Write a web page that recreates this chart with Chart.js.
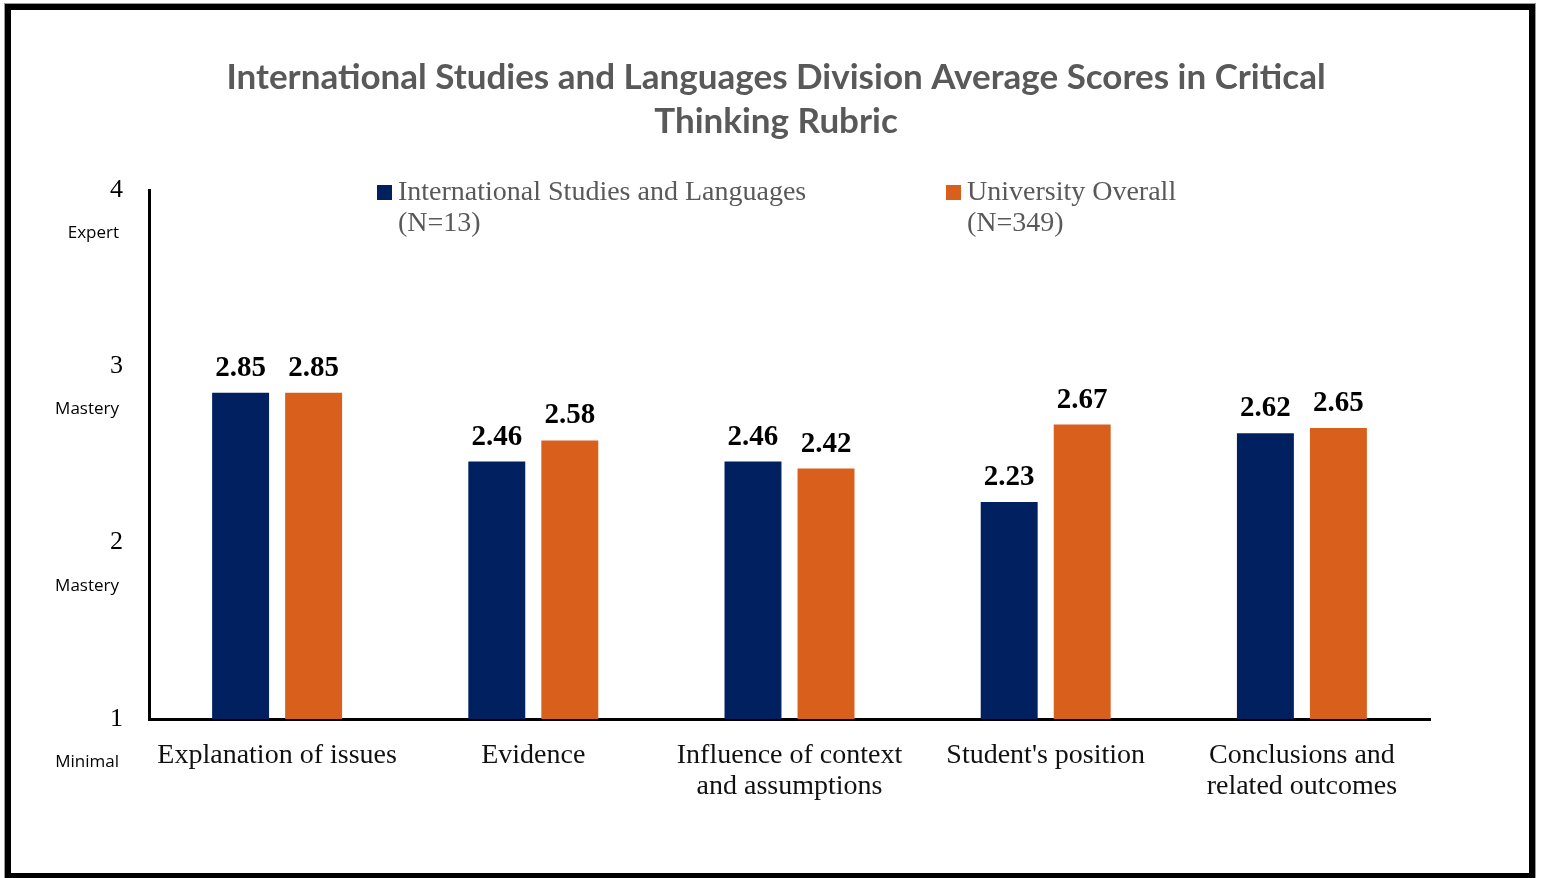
<!DOCTYPE html>
<html>
<head>
<meta charset="utf-8">
<script src="https://cdn.jsdelivr.net/npm/chart.js@4"></script>
<style>
  html, body { margin:0; padding:0; background:#fff; width:1543px; height:878px; overflow:hidden; }
  #frame { position:absolute; left:5px; top:4px; width:1518px; height:863px; border:6px solid #000; box-shadow:0 0 0 1px #999; }
  #c { position:absolute; left:0; top:0; }
</style>
</head>
<body>
<div id="frame"></div>
<canvas id="c" width="1543" height="878"></canvas>
<script>
const titleLines = ['International Studies and Languages Division Average Scores in Critical', 'Thinking Rubric'];
const categories = [
  'Explanation of issues',
  'Evidence',
  ['Influence of context', 'and assumptions'],
  "Student's position",
  ['Conclusions and', 'related outcomes']
];
const seriesNames = [['International Studies and Languages', '(N=13)'], ['University Overall', '(N=349)']];
const islScores = [2.85, 2.46, 2.46, 2.23, 2.62];
const universityScores = [2.85, 2.58, 2.42, 2.67, 2.65];
const seriesColors = ['#002060', '#D9601C'];
const yTickValues = [1, 2, 3, 4];
const yLevelNames = ['Minimal', 'Mastery', 'Mastery', 'Expert'];

const SERIF = '"Liberation Serif", "DejaVu Serif", serif';

const titlePlugin = {
  id: 'titlePlugin',
  afterDraw(chart) {
    const ctx = chart.ctx;
    ctx.save();
    ctx.font = 'bold 35px Lato, "Open Sans", sans-serif';
    ctx.fillStyle = '#595959';
    ctx.textAlign = 'center';
    ctx.textBaseline = 'middle';
    titleLines.forEach((line, i) => ctx.fillText(line, 776, 78 + i * 44));
    ctx.restore();
  }
};

const levelLabels = {
  id: 'levelLabels',
  afterDraw(chart) {
    const ctx = chart.ctx, s = chart.scales.y;
    ctx.save();
    ctx.font = '17px "Open Sans", sans-serif';
    ctx.fillStyle = '#000';
    ctx.textAlign = 'right';
    ctx.textBaseline = 'middle';
    yTickValues.forEach((v, i) => {
      ctx.fillText(yLevelNames[i], 119, s.getPixelForValue(v) + 43);
    });
    ctx.restore();
  }
};

const valueLabels = {
  id: 'valueLabels',
  afterDatasetsDraw(chart) {
    const ctx = chart.ctx;
    ctx.save();
    ctx.font = 'bold 29px ' + SERIF;
    ctx.fillStyle = '#000';
    ctx.textAlign = 'center';
    ctx.textBaseline = 'alphabetic';
    chart.data.datasets.forEach((ds, di) => {
      chart.getDatasetMeta(di).data.forEach((bar, i) => {
        ctx.fillText(ds.data[i].toFixed(2), bar.x, bar.y - 17);
      });
    });
    ctx.restore();
  }
};

const customLegend = {
  id: 'customLegend',
  afterDraw(chart) {
    const ctx = chart.ctx;
    const xs = [377, 946];
    ctx.save();
    ctx.font = '28px ' + SERIF;
    ctx.textBaseline = 'middle';
    ctx.textAlign = 'left';
    chart.data.datasets.forEach((ds, i) => {
      ctx.fillStyle = ds.backgroundColor;
      ctx.fillRect(xs[i], 185, 15, 15);
      ctx.fillStyle = '#595959';
      seriesNames[i].forEach((line, j) => {
        ctx.fillText(line, xs[i] + 21, 193 + j * 31);
      });
    });
    ctx.restore();
  }
};

new Chart(document.getElementById('c'), {
  type: 'bar',
  data: {
    labels: categories,
    datasets: [
      { label: seriesNames[0].join(' '), data: islScores, backgroundColor: seriesColors[0] },
      { label: seriesNames[1].join(' '), data: universityScores, backgroundColor: seriesColors[1] }
    ]
  },
  options: {
    responsive: false,
    animation: false,
    categoryPercentage: 0.57,
    barPercentage: 0.78,
    layout: { padding: { left: 0, right: 113, top: 190, bottom: 59 } },
    plugins: {
      legend: { display: false },
      tooltip: { enabled: false },
      title: { display: false }
    },
    scales: {
      x: {
        grid: { display: false, drawTicks: false },
        border: { display: true, color: '#000', width: 3 },
        ticks: { color: '#111', font: { family: SERIF, size: 28, lineHeight: 1.1 }, padding: 21, maxRotation: 0, autoSkip: false },
        afterFit(scale) { scale.height = 100; }
      },
      y: {
        min: 1, max: 4,
        grid: { display: false, drawTicks: false },
        border: { display: true, color: '#000', width: 3 },
        ticks: { stepSize: 1, color: '#000', font: { family: SERIF, size: 26 }, padding: 26 },
        afterFit(scale) { scale.width = 149; }
      }
    }
  },
  plugins: [titlePlugin, levelLabels, valueLabels, customLegend]
});
</script>
</body>
</html>
